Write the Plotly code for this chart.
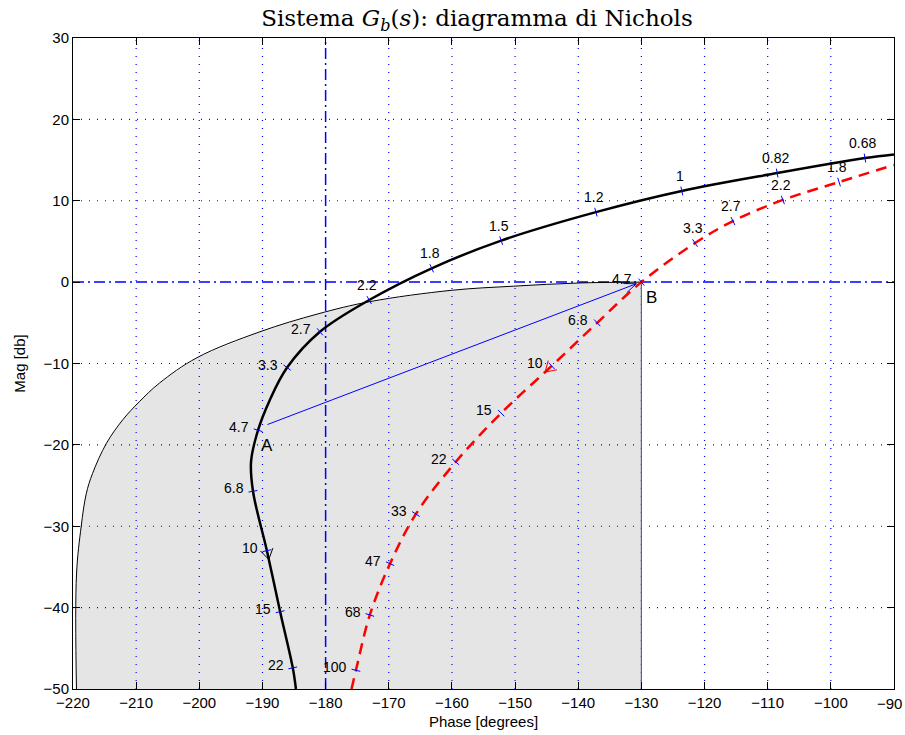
import numpy as np
import plotly.graph_objects as go

# Nichols locus of G_b(jw): phase [deg], magnitude [dB], frequency tags [rad/s]
gb_phase = [-184.7, -185.2, -187.2, -189.3, -191.5, -191.8, -190.7, -188.9, -186.1, -180.9,
            -173.1, -163.2, -152.2, -137.2, -123.6, -108.5, -94.6, -90.0]
gb_mag = [-50.0, -47.4, -40.5, -33.0, -25.7, -22.0, -18.2, -14.6, -10.5, -6.1,
          -2.2, 1.7, 5.1, 8.6, 11.2, 13.4, 15.25, 15.7]
gb_omega = [None, "22", "15", "10", "6.8", None, "4.7", None, "3.3", "2.7",
            "2.2", "1.8", "1.5", "1.2", "1", "0.82", "0.68", None]

# Nichols locus of the compensated loop (dashed)
gc_phase = [-175.9, -175.2, -173.0, -169.8, -165.7, -159.4, -152.2, -144.2, -137.0, -130.0,
            -121.5, -115.5, -107.6, -98.7, -90.0]
gc_mag = [-50.0, -47.7, -40.9, -34.6, -28.5, -22.1, -16.1, -10.3, -5.0, 0.0,
          4.8, 7.5, 10.1, 12.3, 14.4]
gc_omega = [None, "100", "68", "47", "33", "22", "15", "10", "6.8", "4.7",
            "3.3", "2.7", "2.2", "1.8", None]

# upper boundary of the shaded region
region_phase = [-219.45, -219.45, -218.7, -217.9, -216.9, -214.7, -212.1, -209.5, -206.3,
                -200.4, -190.4, -181.2, -173.0, -160.0, -150.3, -139.7, -130.0]
region_mag = [-50.0, -36.0, -30.0, -26.0, -23.5, -19.8, -16.9, -14.7, -12.4,
              -9.3, -6.1, -3.9, -2.4, -1.0, -0.5, -0.1, 0.0]

# design points A -> B
point_A = (-189.2, -17.5)
point_B = (-130.8, -0.2)

# reference lines (critical phase / 0 dB)
ref_phase = -180
ref_mag = 0

x_range = [-220, -90]
y_range = [-50, 30]
x_ticks = list(range(-220, -89, 10))
y_ticks = list(range(-50, 31, 10))

# ---- geometry of the plotting area (used to size ticks and arrowheads in pixels)
W, H = 905, 735
ML, MR, MT, MB = 73, 11, 38, 46
sx = (W - ML - MR) / (x_range[1] - x_range[0])
sy = (H - MT - MB) / (y_range[1] - y_range[0])


def px_vec(dx, dy):
    return dx * sx, dy * sy


def data_vec(px, py):
    return px / sx, py / sy


def minus(v):
    return str(v).replace("-", "\u2212")


BLUE = "#0000ff"
SANS = "Liberation Sans, Arial, sans-serif"
TXT = dict(family=SANS, size=14, color="black")
TICKFONT = dict(family=SANS, size=15, color="black")

fig = go.Figure()

# shaded region
fx = list(region_phase) + [region_phase[-1], region_phase[0]]
fy = list(region_mag) + [y_range[0], y_range[0]]
fig.add_trace(go.Scatter(x=fx, y=fy, mode="lines", fill="toself", fillcolor="#e5e5e5",
                         line=dict(width=0), hoverinfo="skip", showlegend=False))

# dotted grid
gx, gy = [], []
for t in x_ticks[1:-1]:
    if t == ref_phase:
        continue
    gx += [t, t, None]
    gy += [y_range[0], y_range[1], None]
for t in y_ticks[1:-1]:
    if t == ref_mag:
        continue
    gx += [x_range[0], x_range[1], None]
    gy += [t, t, None]
fig.add_trace(go.Scatter(x=gx, y=gy, mode="lines", line=dict(color=BLUE, width=1.2, dash="1px,7px"),
                         hoverinfo="skip", showlegend=False))

# dash-dot reference lines
fig.add_trace(go.Scatter(x=[ref_phase, ref_phase, None, x_range[0], x_range[1]],
                         y=[y_range[0], y_range[1], None, ref_mag, ref_mag], mode="lines",
                         line=dict(color=BLUE, width=1.5, dash="11px,4px,2px,4px"),
                         hoverinfo="skip", showlegend=False))

# region boundary
fig.add_trace(go.Scatter(x=region_phase, y=region_mag, mode="lines", line=dict(color="black", width=1),
                         line_shape="spline", hoverinfo="skip", showlegend=False))
fig.add_trace(go.Scatter(x=[region_phase[-1], region_phase[-1]], y=[region_mag[-1], y_range[0]],
                         mode="lines", line=dict(color="#666666", width=1.2),
                         hoverinfo="skip", showlegend=False))


def head(tip, frm, length, half_angle):
    """Two arm segments of an open arrowhead at tip, pointing away from frm."""
    dx, dy = px_vec(tip[0] - frm[0], tip[1] - frm[1])
    n = np.hypot(dx, dy)
    ux, uy = -dx / n, -dy / n
    xs, ys = [], []
    for s in (1, -1):
        a = s * np.radians(half_angle)
        rx = ux * np.cos(a) - uy * np.sin(a)
        ry = ux * np.sin(a) + uy * np.cos(a)
        ex, ey = data_vec(rx * length, ry * length)
        xs += [tip[0] + ex, tip[0], None]
        ys += [tip[1] + ey, tip[1], None]
    return xs, ys


# A -> B arrow
hx, hy = head(point_B, point_A, 13, 22)
fig.add_trace(go.Scatter(x=[point_A[0], point_B[0], None] + hx, y=[point_A[1], point_B[1], None] + hy,
                         mode="lines", line=dict(color=BLUE, width=1), hoverinfo="skip", showlegend=False))

# the two loci
fig.add_trace(go.Scatter(x=gb_phase, y=gb_mag, mode="lines", line=dict(color="black", width=2.5),
                         line_shape="spline", hoverinfo="skip", showlegend=False))
fig.add_trace(go.Scatter(x=gc_phase, y=gc_mag, mode="lines",
                         line=dict(color="red", width=2.5, dash="11px,7px"),
                         line_shape="spline", hoverinfo="skip", showlegend=False))


def freq_marks(ph, mg, tags, above_level, color):
    tx, ty = [], []
    ann = []
    for i, tag in enumerate(tags):
        if tag is None:
            continue
        dx, dy = px_vec(ph[i + 1] - ph[i - 1], mg[i + 1] - mg[i - 1])
        n = np.hypot(dx, dy)
        nx, ny = -dy / n, dx / n
        ex, ey = data_vec(nx * 4.5, ny * 4.5)
        tx += [ph[i] - ex, ph[i] + ex, None]
        ty += [mg[i] - ey, mg[i] + ey, None]
        if mg[i] > above_level:
            ann.append(dict(x=ph[i], y=mg[i], text=tag, showarrow=False, font=TXT,
                            xanchor="center", yanchor="middle", xshift=-2, yshift=15))
        else:
            ann.append(dict(x=ph[i], y=mg[i], text=tag, showarrow=False, font=TXT,
                            xanchor="right", yanchor="middle", xshift=-7, yshift=3))
    fig.add_trace(go.Scatter(x=tx, y=ty, mode="lines", line=dict(color=BLUE, width=1),
                             hoverinfo="skip", showlegend=False))
    # direction mark at the "10" tag, pointing toward higher frequency
    k = tags.index("10")
    dx, dy = px_vec(ph[k - 1] - ph[k], mg[k - 1] - mg[k])
    n = np.hypot(dx, dy)
    ox, oy = data_vec(dx / n * 9, dy / n * 9)
    tip = (ph[k] + ox, mg[k] + oy)
    vx, vy = head(tip, (ph[k], mg[k]), 12, 32)
    fig.add_trace(go.Scatter(x=vx, y=vy, mode="lines", line=dict(color=color, width=1),
                             hoverinfo="skip", showlegend=False))
    return ann


annotations = []
annotations += freq_marks(gb_phase, gb_mag, gb_omega, -4, "black")
annotations += freq_marks(gc_phase, gc_mag, gc_omega, 2, "red")

big = dict(family=SANS, size=17, color="black")
annotations.append(dict(x=point_A[0], y=point_A[1], text="A", showarrow=False, font=big,
                        xanchor="center", yanchor="middle", xshift=-1, yshift=-21))
annotations.append(dict(x=region_phase[-1], y=region_mag[-1], text="B", showarrow=False, font=big,
                        xanchor="center", yanchor="middle", xshift=10, yshift=-15))

# last phase tick label, kept right-aligned inside the page
annotations.append(dict(xref="paper", yref="paper", x=1, y=0, text=minus(x_ticks[-1]), showarrow=False,
                        font=TICKFONT, xanchor="right", yanchor="middle", xshift=10, yshift=-14))

axis_common = dict(showline=True, linecolor="black", linewidth=1, mirror="ticks", ticks="inside",
                   ticklen=7, tickcolor="black", tickwidth=1, showgrid=False, zeroline=False,
                   automargin=False, tickfont=TICKFONT)

fig.update_layout(
    width=W, height=H,
    margin=dict(l=ML, r=MR, t=MT, b=MB, autoexpand=False),
    paper_bgcolor="white", plot_bgcolor="white",
    title=dict(text="Sistema <i>G</i><sub><i>b</i></sub>(<i>s</i>): diagramma di Nichols",
               font=dict(family="DejaVu Serif, Liberation Serif, serif", size=23, color="black"),
               x=0.527, xanchor="center", y=0.975, yanchor="middle"),
    xaxis=dict(range=x_range, tickmode="array", tickvals=x_ticks,
               ticktext=[minus(v) for v in x_ticks[:-1]] + [""],
               title=dict(text="Phase [degrees]", standoff=6,
                          font=dict(family=SANS, size=15, color="black")),
               **axis_common),
    yaxis=dict(range=y_range, tickmode="array", tickvals=y_ticks,
               ticktext=[minus(v) for v in y_ticks],
               title=dict(text="Mag [db]", standoff=14,
                          font=dict(family=SANS, size=15, color="black")),
               **axis_common),
    annotations=annotations,
)

fig.write_html("out.html")
